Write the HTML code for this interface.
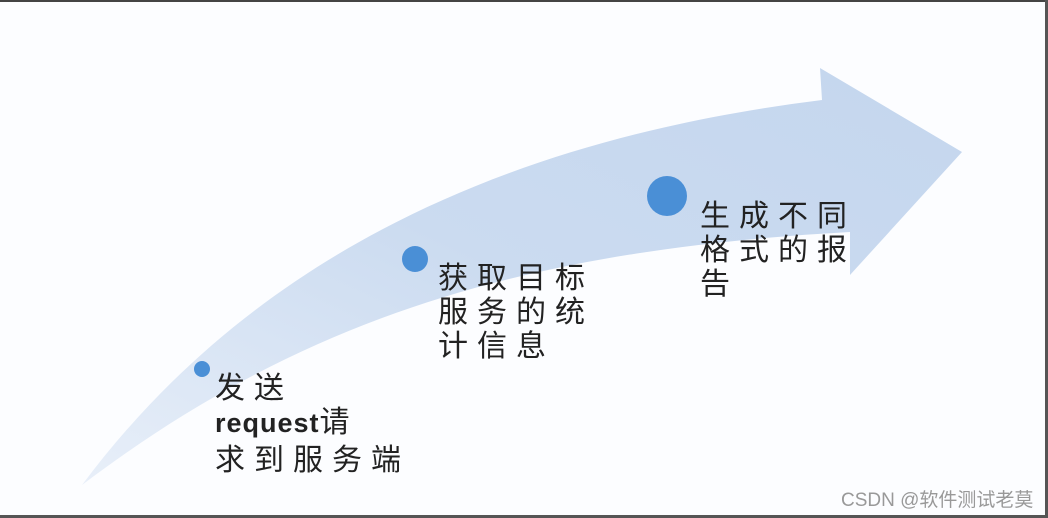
<!DOCTYPE html>
<html><head><meta charset="utf-8"><style>
html,body{margin:0;padding:0;}
body{width:1048px;height:518px;position:relative;background:#fcfdff;overflow:hidden;font-family:"Liberation Sans","Noto Sans CJK SC",sans-serif;}
.t{position:absolute;font-size:30px;line-height:34px;color:#222;letter-spacing:9px;font-family:"Noto Sans CJK SC","WenQuanYi Zen Hei",sans-serif;}
.t b{font-family:"Liberation Sans",sans-serif;font-weight:bold;letter-spacing:1px;font-size:27px;}
.wm{position:absolute;left:841px;top:485px;font-size:19px;color:#999;font-family:"Liberation Sans","Noto Sans CJK SC",sans-serif;}
</style></head><body>
<div style="position:absolute;left:0;top:0;width:1048px;height:2px;background:#444"></div>
<div style="position:absolute;left:0;top:515px;width:1048px;height:3px;background:#555"></div>
<div style="position:absolute;left:1045px;top:0;width:3px;height:518px;background:#555"></div>
<svg width="1048" height="518" style="position:absolute;left:0;top:0">
<defs><linearGradient id="g" x1="0" y1="1" x2="1" y2="0">
<stop offset="0" stop-color="#e8eff9"/><stop offset="0.5" stop-color="#cbdbf0"/><stop offset="1" stop-color="#c4d6ee"/></linearGradient></defs>
<path d="M82,485 C250,260 500,140 822,100 L820,68 L962,152 L850,275 L850,232 C520,250 300,320 82,485 Z" fill="url(#g)"/>
<circle cx="202" cy="369" r="8" fill="#4a8fd6"/>
<circle cx="415" cy="259" r="13" fill="#4a8fd6"/>
<circle cx="667" cy="196" r="20" fill="#4a8fd6"/>
</svg>
<div class="t" style="left:215px;top:368px">发送<br><b>request</b>请<br>求到服务端</div>
<div class="t" style="left:438px;top:258px">获取目标<br>服务的统<br>计信息</div>
<div class="t" style="left:700px;top:196px">生成不同<br>格式的报<br>告</div>
<div class="wm">CSDN @软件测试老莫</div>
</body></html>
